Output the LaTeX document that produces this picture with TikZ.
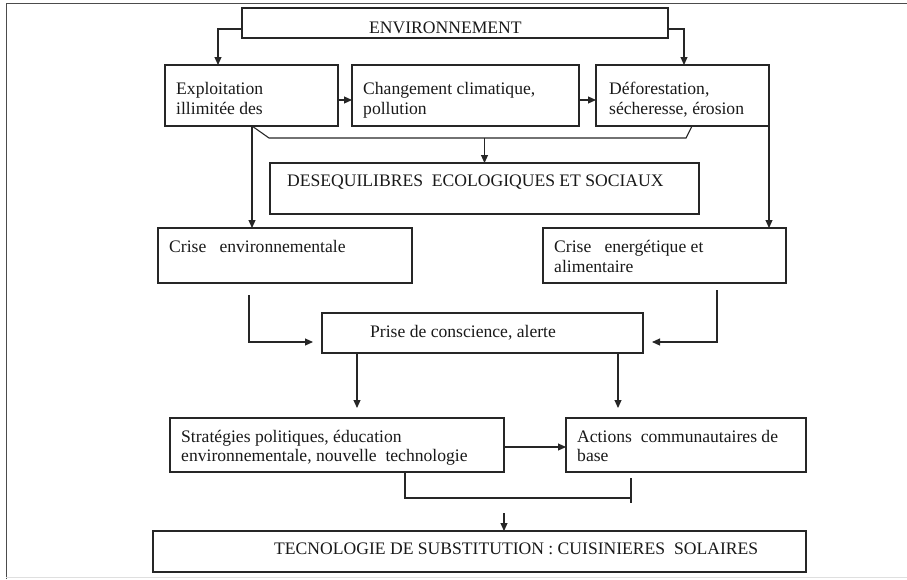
\documentclass[tikz,border=0pt]{standalone}
\usepackage{fontspec}
\setmainfont{Liberation Serif}
\usetikzlibrary{arrows.meta}
\begin{document}
\begin{tikzpicture}[x=1pt,y=-1pt,
  box/.style={draw=black!85, line width=1.1pt, anchor=north west, inner sep=0pt, outer sep=0pt},
  lbl/.style={anchor=base west, inner sep=0pt, text=black!90, font=\fontsize{17.6}{20}\selectfont},
  con/.style={draw=black!85, line width=1.1pt},
  arr/.style={con, -{Triangle[length=8pt,width=7pt]}}]
\useasboundingbox (0,0) rectangle (907,579);
% frame
\draw[gray!60!black, line width=1pt] (6,579) -- (6,3) -- (907,3);
\draw[gray!25, line width=1pt] (6,577.5) -- (907,577.5);
% boxes
\node[box, minimum width=426pt, minimum height=30pt] (env) at (242,8) {};
\node[box, minimum width=173pt, minimum height=61pt] (exp) at (165,65) {};
\node[box, minimum width=227pt, minimum height=61pt] (chg) at (352,65) {};
\node[box, minimum width=173pt, minimum height=61pt] (def) at (596,65) {};
\node[box, minimum width=429pt, minimum height=51pt] (deseq) at (270,163) {};
\node[box, minimum width=254pt, minimum height=55pt] (cenv) at (158,228) {};
\node[box, minimum width=243pt, minimum height=55pt] (cen) at (543,228) {};
\node[box, minimum width=321pt, minimum height=40pt] (prise) at (322,313) {};
\node[box, minimum width=334pt, minimum height=54pt] (strat) at (170,418) {};
\node[box, minimum width=240pt, minimum height=54pt] (act) at (566,418) {};
\node[box, minimum width=653pt, minimum height=41pt] (tech) at (153,531) {};
% labels
\node[lbl] (t1) at (369,33) {ENVIRONNEMENT};
\node[lbl] (t2a) at (176,94) {Exploitation};
\node[lbl] (t2b) at (176,114) {illimitée des};
\node[lbl] (t3a) at (363,94) {Changement climatique,};
\node[lbl] (t3b) at (363,114) {pollution};
\node[lbl] (t4a) at (609,94) {Déforestation,};
\node[lbl] (t4b) at (609,114) {sécheresse, érosion};
\node[lbl] (t5) at (287,186) {DESEQUILIBRES~ ECOLOGIQUES ET SOCIAUX};
\node[lbl] (t6) at (169,252) {Crise~~ environnementale};
\node[lbl] (t7a) at (554,252) {Crise~~ energétique et};
\node[lbl] (t7b) at (554,272) {alimentaire};
\node[lbl] (t8) at (370,337) {Prise de conscience, alerte};
\node[lbl] (t9a) at (181,442) {Stratégies politiques, éducation};
\node[lbl] (t9b) at (181,461) {environnementale, nouvelle~ technologie};
\node[lbl] (t10a) at (577,442) {Actions~ communautaires de};
\node[lbl] (t10b) at (577,461) {base};
\node[lbl] (t11) at (274,554) {TECNOLOGIE DE SUBSTITUTION : CUISINIERES~ SOLAIRES};
% coordinates
\coordinate (bl) at (269,138);
\coordinate (br) at (686,138);
\coordinate (l1) at (249,295);
\coordinate (r1) at (717,290);
\coordinate (bt) at (631,498);
\coordinate (tk1) at (631,478);
\coordinate (tk2) at (631,503);
\coordinate (d1) at (504,513);
% connectors
\draw[arr] ([yshift=-6pt]env.west) -| ([xshift=53pt]exp.north west);
\draw[arr] ([yshift=-6pt]env.east) -| ([xshift=-85pt]def.north east);
\draw[arr] ([yshift=-4.5pt]exp.east) -- ([yshift=-4.5pt]chg.west);
\draw[arr] ([yshift=-4.5pt]chg.east) -- ([yshift=-4.5pt]def.west);
\draw[con] ([xshift=87pt]exp.south west) -- (bl) -- (br) -- ([xshift=-77pt]def.south east);
\draw[arr] (deseq.north |- bl) -- (deseq.north);
\draw[arr] ([xshift=87pt]exp.south west) -- ([xshift=87pt]exp.south west |- cenv.north);
\draw[arr] (def.south east) -- (def.south east |- cen.north);
\draw[arr, shorten >=9pt] (l1) |- ([yshift=-9pt]prise.west);
\draw[arr, shorten >=9pt] (r1) |- ([yshift=-9pt]prise.east);
\draw[arr, shorten >=10pt] ([xshift=35pt]prise.south west) -- ([xshift=35pt]prise.south west |- strat.north);
\draw[arr, shorten >=10pt] ([xshift=-25pt]prise.south east) -- ([xshift=-25pt]prise.south east |- act.north);
\draw[arr] ([yshift=-2pt]strat.east) -- ([yshift=-2pt]act.west);
\draw[con] ([xshift=235pt]strat.south west) |- (bt);
\draw[con] (tk1) -- (tk2);
\draw[arr] (d1) -- (d1 |- tech.north);
\end{tikzpicture}
\end{document}
